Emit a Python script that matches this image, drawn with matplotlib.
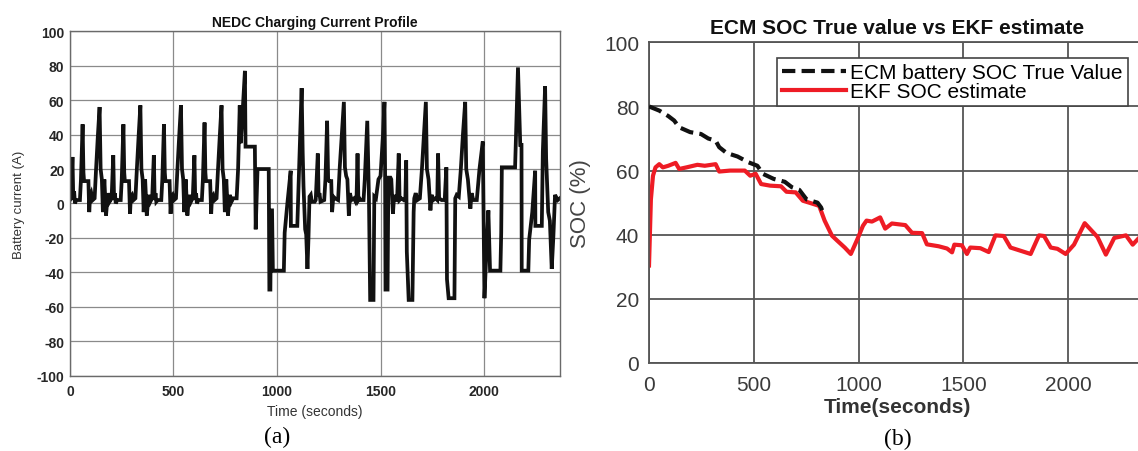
import numpy as np
import matplotlib.pyplot as plt

plt.rcParams['font.family'] = ['Liberation Sans', 'DejaVu Sans']
plt.rcParams['axes.unicode_minus'] = False

# ---- NEDC charging current profile (breakpoints of the step profile) ----
cur_t = [
    # urban cycle 1
    0, 5, 12, 16, 20, 24, 30, 48, 53, 61, 65, 68, 89, 93, 97, 103, 110, 119, 126, 134, 143, 148, 154, 159, 166, 174, 183, 191,
    # urban cycle 2
    196, 201, 209, 213, 217, 221, 228, 245, 250, 258, 262, 265, 285, 290, 294, 300, 307, 316, 323, 331, 340, 345, 351, 356, 363, 371, 380, 388,
    # urban cycle 3
    392, 397, 405, 409, 413, 417, 424, 441, 446, 454, 458, 461, 481, 486, 490, 496, 503, 512, 519, 527, 536, 541, 547, 552, 559, 567, 576, 584,
    # urban cycle 4
    588, 593, 601, 605, 609, 613, 620, 637, 642, 650, 654, 657, 677, 682, 686, 692, 699, 708, 715, 723, 732, 737, 743, 748, 755, 763, 772, 780,
    # extra-urban part
    788, 805, 812, 820, 824, 830, 838, 845, 848, 893, 897, 906, 960, 963, 968, 971, 976, 980, 1033, 1037, 1050, 1066, 1067, 1098, 1108, 1119,
    1124, 1128, 1136, 1141, 1147, 1152, 1157, 1163, 1168,
    # second half
    1182, 1187, 1197, 1201, 1205, 1210, 1228, 1234, 1242, 1247, 1252, 1262, 1266, 1272, 1280, 1295, 1303, 1313, 1323, 1328, 1334, 1340, 1347,
    1352, 1360, 1372, 1380,
    1384, 1389, 1393, 1398, 1405, 1418, 1424, 1436, 1444, 1450, 1466, 1470, 1478, 1490, 1500, 1512, 1519, 1522, 1524, 1534, 1538, 1548, 1552,
    1560, 1566, 1572,
    1580, 1588, 1592, 1600, 1612, 1620, 1624, 1627, 1636, 1654, 1660, 1663, 1670, 1678, 1690, 1700, 1710, 1719, 1724, 1732, 1741, 1747, 1755,
    1765,
    1774, 1778, 1783, 1795, 1810, 1818, 1821, 1829, 1857, 1861, 1868, 1878, 1888, 1898, 1909, 1914, 1922, 1934, 1940, 1948, 1965, 1978, 1994,
    2002, 2010, 2021, 2029, 2079, 2083, 2086, 2150, 2157, 2164, 2175, 2181, 2182, 2214, 2218, 2233, 2247, 2248, 2279, 2284, 2295, 2300, 2310,
    2318, 2327, 2335, 2343, 2356, 2366,
]
cur_a = [
    2, 3, 27, 2, 7, 0, 2, 2, 14, 46, 18, 13, 13, -5, 4, 6, 2, 3, 20, 38, 56, 20, 14, -5, 14, -7, 6, 1,
    2, 3, 28, 2, 6, 0, 2, 2, 14, 46, 18, 13, 13, -6, 4, 5, 2, 3, 20, 38, 57, 20, 14, -5, 14, -7, 5, 1,
    2, 3, 28, 2, 6, 1, 2, 2, 14, 46, 18, 13, 13, -6, 4, 5, 2, 3, 20, 38, 57, 20, 14, -5, 14, -7, 5, 1,
    2, 3, 28, 2, 6, 0, 2, 2, 14, 47, 18, 13, 13, -6, 4, 5, 2, 3, 20, 38, 57, 20, 14, -5, 14, -7, 5, 1,
    3, 3, 20, 57, 35, 45, 62, 77, 33, 33, -15, 20, 20, -50, -50, -4, -4, -39, -39, -17, 0, 19, -13, -13, 25, 67,
    30, 10, -15, -18, -38, -20, 4, 5, 1,
    1, 2, 29, 4, 6, 1, 2, 14, 48, 14, 13, 13, -5, 4, 3, 2, 21, 40, 59, 21, 16, 14, -7,
    6, 2, 3, 1,
    2, 29, 2, 3, 2, 2, 14, 48, 4, -56, -56, 4, 3, 14, 16, 40, 59, 20, -50, -50, 15, 15, 14,
    -6, 5, 2,
    2, 29, 2, 3, 2, 3, 25, -28, -56, -56, -5, 3, 6, 2, 3, 20, 40, 59, 20, 14, -4, 5, 2,
    3,
    2, 29, 3, 2, 2, 21, -44, -55, -55, 3, 5, 4, 20, 40, 59, 20, 14, -3, 6, 2, 2, 20, 36,
    -55, -32, -4, -39, -39, -17, 21, 21, 50, 79, 34, 34, -39, -39, -21, -5, 19, -13, -13, 30, 68, 26, -5,
    -10, -38, -19, 5, 2, 3,
]

# ---- SOC: ECM true value and EKF estimate (%) ----
true_t = [0, 49, 92, 120, 144, 196, 248, 283, 318, 335, 370, 422, 474, 517, 543, 595, 648, 682, 717, 752, 804, 821, 835]
true_soc = [80, 78.7, 77, 75.6, 73.5, 72, 71.4, 70, 69.3, 67.3, 65.5, 64.4, 62.6, 61.5, 59, 57.4, 56.5, 54.8, 54, 51, 50, 48.5, 46]

ekf_t = [0, 9, 19, 31, 49, 66, 92, 127, 144, 179, 231, 266, 318, 335, 387, 457, 483, 509, 535, 578, 630, 656, 700, 734, 769,
         812, 838, 873, 899, 934, 963, 995, 1021, 1038, 1064, 1103, 1127, 1159, 1223, 1255, 1303, 1326, 1382, 1422, 1446,
         1457, 1493, 1517, 1533, 1581, 1621, 1653, 1693, 1725, 1773, 1821, 1861, 1885, 1917, 1949, 1988, 2028, 2079,
         2140, 2180, 2220, 2276, 2308, 2338, 2367]
ekf_soc = [30.4, 51, 58.4, 61, 62, 61, 61.5, 62.4, 60.5, 61, 61.8, 61.5, 62, 59.7, 60, 60, 58.4, 59, 55.8, 55.3, 55.1, 53.4,
           53.2, 50.6, 49.9, 49, 44.4, 39.7, 38.1, 36, 34, 38.7, 42.8, 44.4, 44.1, 45.4, 41.9, 43.5, 43, 40.6, 40.5, 37,
           36.4, 35.7, 34.5, 36.9, 36.7, 34, 36, 35.8, 34.6, 39.8, 39.6, 36, 35, 34, 39.8, 39.6, 36, 35.6, 34, 36.9, 43.6,
           39.3, 33.8, 39, 39.8, 36.9, 39, 38.5]

fig = plt.figure(figsize=(11.38, 4.52), dpi=100)

# ---------------- (a) current profile ----------------
ax1 = fig.add_axes([0.0615, 0.1666, 0.4306, 0.762])
ax1.plot(cur_t, cur_a, color='#111111', lw=2.7, solid_joinstyle='miter')
ax1.set_xlim(0, 2367)
ax1.set_ylim(-100, 100)
ax1.set_xticks([0, 500, 1000, 1500, 2000])
ax1.set_yticks(np.arange(-100, 101, 20))
ax1.grid(True, color='#8a8a8a', lw=0.9)
ax1.set_axisbelow(True)
for s in ax1.spines.values():
    s.set_color('#6a6a6a')
    s.set_linewidth(1.0)
ax1.tick_params(length=0, labelsize=10, labelcolor='#262626')
ax1.tick_params(axis='y', pad=4)
ax1.tick_params(axis='x', pad=6)
for lab in ax1.get_xticklabels() + ax1.get_yticklabels():
    lab.set_fontweight('bold')
ax1.text(0.5, 1.026, 'NEDC Charging Current Profile', transform=ax1.transAxes,
         ha='center', va='center', fontsize=10, fontweight='bold', color='#111111')
ax1.set_xlabel('Time (seconds)', fontsize=10, color='#333333')
ax1.set_ylabel('Battery current (A)', fontsize=9.5, color='#333333')
ax1.xaxis.set_label_coords(0.5, -0.082)
ax1.yaxis.set_label_coords(-0.092, 0.5)

# ---------------- (b) SOC estimate ----------------
ax2 = fig.add_axes([0.5703, 0.1947, 0.4359, 0.7095])
ax2.plot(true_t, true_soc, color='#111111', lw=3.0, dashes=(3.2, 1.5), label='ECM battery SOC True Value', zorder=3)
ax2.plot(ekf_t, ekf_soc, color='#ee1c25', lw=3.0, label='EKF SOC estimate', zorder=2)
ax2.set_xlim(0, 2367)
ax2.set_ylim(0, 100)
ax2.set_xticks([0, 500, 1000, 1500, 2000])
ax2.set_yticks(np.arange(0, 101, 20))
ax2.grid(True, color='#555555', lw=1.3)
ax2.set_axisbelow(True)
for s in ax2.spines.values():
    s.set_color('#555555')
    s.set_linewidth(1.3)
ax2.tick_params(length=0, labelsize=15, labelcolor='#3a3a3a')
ax2.tick_params(axis='y', pad=7)
ax2.tick_params(axis='x', pad=9)
ax2.text(0.5, 1.047, 'ECM SOC True value vs EKF estimate', transform=ax2.transAxes,
         ha='center', va='center', fontsize=15, fontweight='bold', color='#111111')
ax2.set_xlabel('Time(seconds)', fontsize=15, fontweight='bold', color='#333333')
ax2.set_ylabel('SOC (%)', fontsize=16, color='#444444')
ax2.xaxis.set_label_coords(0.5, -0.106)
ax2.yaxis.set_label_coords(-0.117, 0.5)
leg = ax2.legend(loc='upper right', bbox_to_anchor=(0.966, 0.951), borderaxespad=0,
                 fontsize=15, handlelength=3.1, handletextpad=0.2, labelspacing=0.0,
                 borderpad=0.25, fancybox=False, framealpha=1, edgecolor='#444444')
leg.get_frame().set_linewidth(1.2)

fig.text(0.2434, 0.033, '(a)', ha='center', va='center', fontsize=17, family='Liberation Serif')
fig.text(0.789, 0.027, '(b)', ha='center', va='center', fontsize=17, family='Liberation Serif')

fig.savefig('out.png', dpi=100)
